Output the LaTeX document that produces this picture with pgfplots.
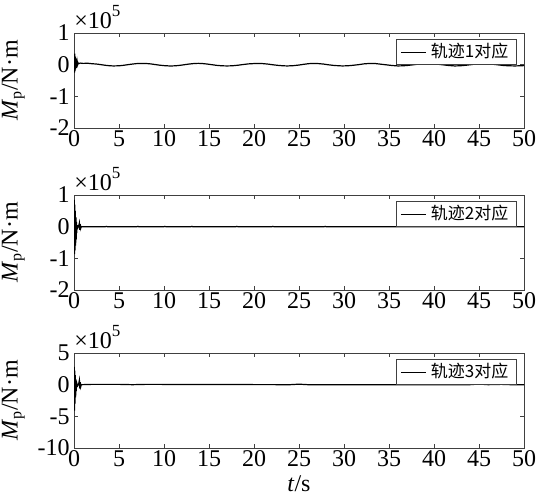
\documentclass[border=0pt]{standalone}
\usepackage{fontspec}
\setmainfont{Liberation Serif}
\newfontfamily\cjk{Noto Sans CJK SC}
\usepackage{pgfplots}
\pgfplotsset{compat=1.18}
\pgfplotstableread{
t v
0 0
0.03 0.30
0.06 -0.25
0.09 0.35
0.12 -0.20
0.15 0.25
0.18 -0.15
0.21 0.20
0.24 -0.10
0.27 0.15
0.30 -0.05
0.35 0.10
0.40 0.00
0.45 0.06
0.50 0.03
0.70 0.05
1.0 0.04
1.5 0.045
2.0 0.03
2.5 0.02
3.0 0.0
3.5 -0.02
4.0 -0.035
4.4 -0.04
5.0 -0.035
5.5 -0.02
6.0 0.0
6.5 0.02
7.0 0.035
7.5 0.04
8.0 0.038
8.5 0.025
9.0 0.005
9.5 -0.015
10.0 -0.03
10.7 -0.042
11.3 -0.035
11.8 -0.02
12.3 0.0
12.8 0.02
13.3 0.035
13.8 0.042
14.3 0.035
14.8 0.02
15.3 0.0
15.8 -0.02
16.4 -0.035
17.0 -0.04
17.6 -0.035
18.2 -0.018
18.8 0.005
19.4 0.025
20.3 0.04
20.9 0.035
21.5 0.02
22.0 0.0
22.6 -0.02
23.2 -0.035
23.7 -0.04
24.3 -0.033
24.9 -0.015
25.5 0.01
26.0 0.03
26.5 0.04
27.1 0.035
27.7 0.02
28.3 -0.005
28.9 -0.025
29.8 -0.04
30.4 -0.035
31.0 -0.02
31.6 0.0
32.2 0.025
32.9 0.04
33.5 0.035
34.1 0.015
34.7 -0.005
35.3 -0.025
36.0 -0.04
36.6 -0.035
37.2 -0.02
37.8 0.0
38.5 0.025
39.2 0.04
39.8 0.035
40.4 0.015
41.0 -0.005
41.6 -0.025
42.3 -0.04
42.9 -0.035
43.5 -0.02
44.1 0.0
44.7 0.025
45.3 0.04
45.9 0.035
46.5 0.015
47.1 -0.005
47.7 -0.025
48.3 -0.035
49.0 -0.04
49.5 -0.035
50 -0.03
}\trajA
\pgfplotstableread{
t v
0 0
0.03 0.85
0.06 -0.87
0.09 0.70
0.12 -0.75
0.15 0.50
0.18 -0.60
0.21 0.30
0.24 -0.40
0.27 0.15
0.30 -0.20
0.35 0.05
0.40 -0.05
0.50 0.0
0.60 0.12
0.65 -0.10
0.70 0.08
0.75 -0.05
0.80 0.0
3.5 0.0
3.6 0.01
3.7 0.0
7.0 0.0
7.1 0.01
7.2 -0.005
7.3 0.0
10.0 0.0
10.1 0.01
10.2 0.0
13.0 0.0
13.1 0.01
13.2 -0.005
13.3 0.0
18.0 0.0
18.1 0.01
18.2 0.0
22.0 0.0
22.1 0.01
22.2 0.0
27.8 0.0
27.9 0.01
28.0 0.0
50 0.0
}\trajB
\pgfplotstableread{
t v
0 0
0.03 2.8
0.06 -4.1
0.09 2.2
0.12 -3.0
0.15 1.5
0.18 -2.0
0.21 0.8
0.24 -1.0
0.30 0.3
0.40 -0.2
0.50 0.0
0.60 0.7
0.65 -0.6
0.70 0.4
0.75 -0.3
0.80 0.0
2.0 0.05
5.0 0.05
6.5 0.0
8.0 0.05
24.0 0.0
25.0 0.08
26.0 0.0
44.0 0.0
45.0 0.1
46.0 0.0
47.5 0.05
48.5 0.0
50 0.0
}\trajC
\pgfplotsset{
  mpstyle/.style={
    width=225pt, height=47.5pt, scale only axis,
    xmin=0, xmax=50,
    xtick={0,5,...,50},
    tick align=inside,
    major tick length=2pt,
    axis line style={black!75},
    tick style={black!75},
    scaled y ticks=false,
    clip mode=individual,
    /pgf/number format/assume math mode=true,
    tick label style={font=\fontsize{12}{13}\selectfont},
    label style={font=\fontsize{12}{13}\selectfont},
    xticklabel style={inner sep=1pt},
    yticklabel style={inner sep=2pt},
    ylabel={\textit{M}\textsubscript{p}/N·m},
    every axis y label/.append style={at={(axis description cs:-0.135,0.5)},anchor=center},
    legend style={at={(0.984,0.937)}, anchor=north east, draw=black!75,
      font=\fontsize{8.5}{9}\selectfont\cjk, inner xsep=2pt, inner ysep=0pt},
    legend image code/.code={\draw[black,line width=0.5pt] (0cm,0cm) -- (0.45cm,0cm);},
  },
}
\newcommand\expo{\node[anchor=south west, inner sep=0pt, font=\fontsize{12}{13}\selectfont] at (rel axis cs:0,1) [yshift=2pt] {×10\raisebox{0.5em}{\fontsize{8.5}{9}\selectfont 5}};}
\begin{document}
\begin{tikzpicture}
\path[use as bounding box] (0,0) rectangle (275pt,-247pt);
\begin{axis}[mpstyle, at={(37pt,-64pt)}, anchor=south west,
  ymin=-2, ymax=1, ytick={-2,-1,0,1}]
\addplot[black, line width=0.6pt] table {\trajA};
\addlegendentry{轨迹1对应}
\expo
\end{axis}
\begin{axis}[mpstyle, at={(37pt,-145pt)}, anchor=south west,
  ymin=-2, ymax=1, ytick={-2,-1,0,1}]
\addplot[black, line width=0.6pt] table {\trajB};
\addlegendentry{轨迹2对应}
\expo
\end{axis}
\begin{axis}[mpstyle, at={(37pt,-224pt)}, anchor=south west,
  ymin=-10, ymax=5, ytick={-10,-5,0,5},
  xlabel={\textit{t}/s}]
\addplot[black, line width=0.6pt] table {\trajC};
\addlegendentry{轨迹3对应}
\expo
\end{axis}
\end{tikzpicture}
\end{document}
